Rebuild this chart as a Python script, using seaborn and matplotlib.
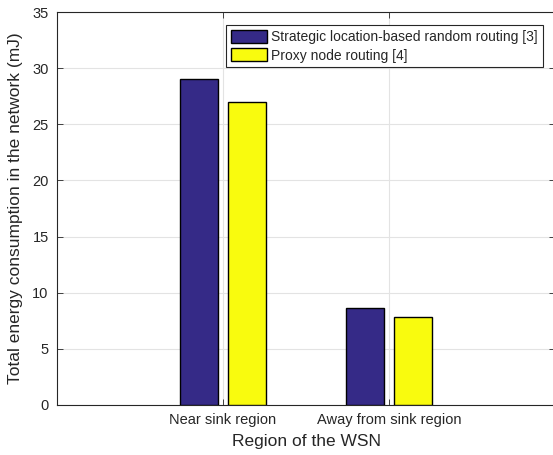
import matplotlib
matplotlib.use("Agg")
import matplotlib.pyplot as plt
import seaborn as sns
import pandas as pd

regions = ["Near sink region", "Away from sink region"]
methods = ["Strategic location-based random routing [3]", "Proxy node routing [4]"]
slrr_values = [29.0, 8.6]
proxy_values = [27.0, 7.8]
yticks = [0, 5, 10, 15, 20, 25, 30, 35]

df = pd.DataFrame({
    "region": regions * 2,
    "method": [methods[0]] * 2 + [methods[1]] * 2,
    "value": slrr_values + proxy_values,
})

sns.set_theme(style="white")
plt.rcParams["font.family"] = ["Liberation Sans", "DejaVu Sans"]

fig = plt.figure(figsize=(5.53, 4.55), dpi=100)
ax = fig.add_axes([0.1031, 0.1099, 0.9005, 0.8637])

palette = {methods[0]: "#352A87", methods[1]: "#F9FB0E"}
sns.barplot(data=df, x="region", y="value", hue="method", order=regions,
            hue_order=methods, palette=palette, width=0.58, gap=0.2,
            edgecolor="black", linewidth=1.0, saturation=1, ax=ax, zorder=3)

ax.set_xlim(-1, 2)
ax.set_ylim(0, 35)
ax.set_yticks(yticks)
ax.grid(True, color="#e3e3e3", linewidth=0.8, zorder=0)
ax.set_axisbelow(True)
for s in ax.spines.values():
    s.set_color("#262626")
    s.set_linewidth(0.8)
ax.tick_params(direction="in", length=4, width=0.6, colors="#262626",
               labelsize=10.5, top=True, right=True, bottom=True, left=True,
               labelcolor="#262626", pad=6)
ax.set_xlabel("Region of the WSN", fontsize=12.5, color="#262626", labelpad=5)
ax.set_ylabel("Total energy consumption in the network (mJ)", fontsize=12.5,
              color="#262626", labelpad=7)

leg = ax.legend(loc="upper right", bbox_to_anchor=(0.975, 0.967), fontsize=10,
                frameon=True, fancybox=False, framealpha=1,
                edgecolor="#262626", handlelength=2.6, handleheight=1.08,
                handletextpad=0.3, borderpad=0.35, labelspacing=0.3,
                borderaxespad=0)
leg.get_frame().set_linewidth(0.8)

fig.savefig("out.png", dpi=100)
